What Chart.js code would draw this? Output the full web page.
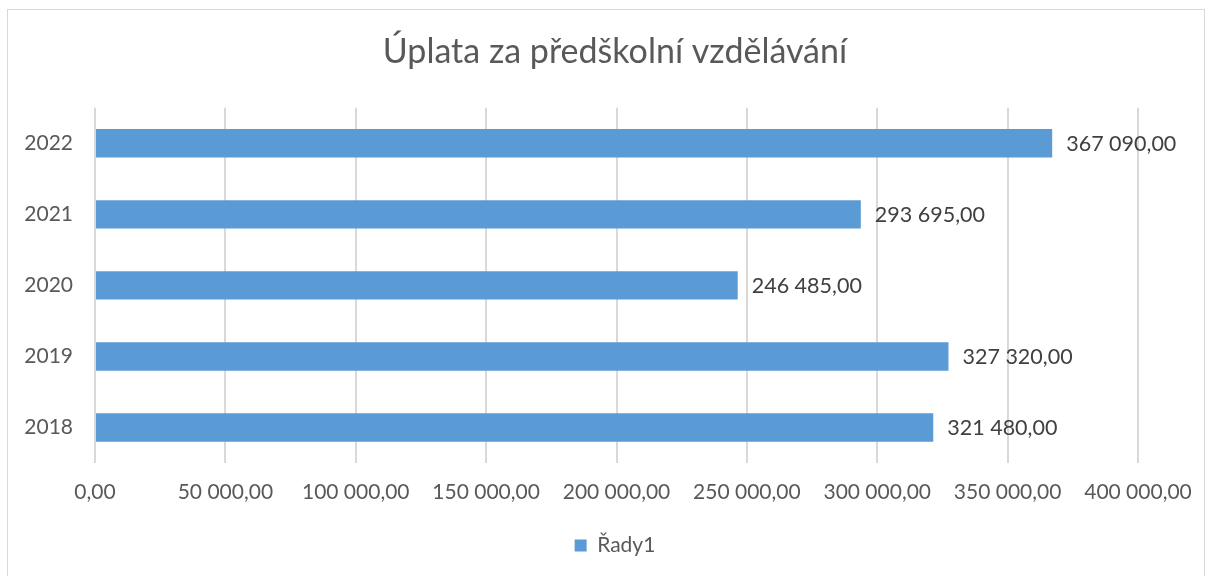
<!DOCTYPE html>
<html lang="cs">
<head>
<meta charset="UTF-8">
<title>Úplata za předškolní vzdělávání</title>
<script src="https://cdn.jsdelivr.net/npm/chart.js@4"></script>
<style>
  html, body { margin: 0; padding: 0; background: #fff; }
  #wrap { position: relative; width: 1212px; height: 576px; }
</style>
</head>
<body>
<div id="wrap"><canvas id="chart" width="1212" height="576"></canvas></div>
<script>
const years = ['2022', '2021', '2020', '2019', '2018'];
const fees = [367090, 293695, 246485, 327320, 321480];
const seriesName = 'Řady1';
const chartTitle = 'Úplata za předškolní vzdělávání';

const FONT = 'Lato, "Open Sans", sans-serif';

function czNumber(v) {
  const parts = Math.abs(v).toFixed(2).split('.');
  const int = parts[0].replace(/\B(?=(\d{3})+(?!\d))/g, ' ');
  return (v < 0 ? '-' : '') + int + ',' + parts[1];
}

// frame round the chart area, like the office chart border
const frame = {
  id: 'frame',
  beforeDraw(chart) {
    const ctx = chart.ctx;
    ctx.save();
    ctx.strokeStyle = '#d9d9d9';
    ctx.lineWidth = 1;
    ctx.strokeRect(7.5, 9.5, 1197, 580);
    ctx.restore();
  }
};

// value labels past the end of each bar
const valueLabels = {
  id: 'valueLabels',
  afterDatasetsDraw(chart) {
    const ctx = chart.ctx;
    ctx.save();
    ctx.font = '21.5px ' + FONT;
    ctx.fillStyle = '#404040';
    ctx.textAlign = 'left';
    ctx.textBaseline = 'middle';
    chart.getDatasetMeta(0).data.forEach((bar, i) => {
      ctx.fillText(czNumber(fees[i]), bar.x + 14, bar.y + 1);
    });
    ctx.restore();
  }
};

new Chart(document.getElementById('chart'), {
  type: 'bar',
  data: {
    labels: years,
    datasets: [{
      label: seriesName,
      data: fees,
      backgroundColor: '#5b9bd5',
      borderWidth: 0,
      categoryPercentage: 1,
      barPercentage: 0.4
    }]
  },
  options: {
    indexAxis: 'y',
    responsive: false,
    animation: false,
    layout: { padding: { top: 8, right: 0, bottom: 10, left: 18 } },
    plugins: {
      title: {
        display: true,
        text: chartTitle,
        color: '#595959',
        font: { family: FONT, size: 34, weight: 'normal' },
        padding: { top: 24, bottom: 35 }
      },
      legend: {
        position: 'bottom',
        labels: {
          color: '#595959',
          font: { family: FONT, size: 21 },
          boxWidth: 12,
          boxHeight: 12,
          padding: 10
        }
      },
      tooltip: { enabled: false }
    },
    scales: {
      x: {
        min: 0,
        max: 400000,
        ticks: {
          stepSize: 50000,
          color: '#595959',
          font: { family: FONT, size: 21 },
          padding: 17,
          maxRotation: 0,
          callback: v => czNumber(v)
        },
        grid: { color: '#d9d9d9', lineWidth: 2, drawTicks: false },
        border: { display: false },
        afterFit(scale) { scale.height = 62; }
      },
      y: {
        ticks: {
          color: '#595959',
          font: { family: FONT, size: 21 },
          padding: 22
        },
        grid: { display: false, drawTicks: false },
        border: { display: false },
        afterFit(scale) { scale.width = 77; }
      },
      // empty right-hand gap so title and legend stay centred on the frame
      yGap: {
        type: 'category',
        position: 'right',
        ticks: { display: false },
        grid: { display: false, drawTicks: false },
        border: { display: false },
        afterFit(scale) { scale.width = 74; }
      }
    }
  },
  plugins: [frame, valueLabels]
});
</script>
</body>
</html>
